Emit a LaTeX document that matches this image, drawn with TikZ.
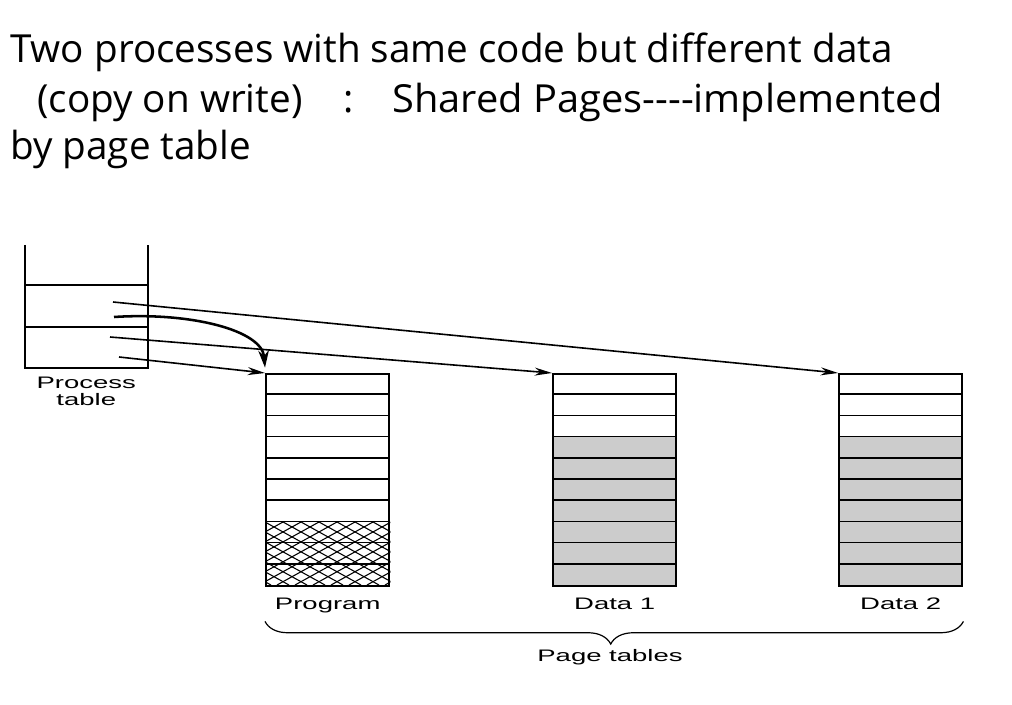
\documentclass[tikz,border=0pt]{standalone}
\usepackage{fontspec}
\setmainfont{Open Sans}
\newfontfamily\figfont{Liberation Sans}
\usetikzlibrary{positioning,arrows.meta,decorations.pathreplacing,backgrounds}

\tikzset{
  pgtab/.style={draw, line width=1.8pt, minimum width=92.25pt, minimum height=159pt, inner sep=0pt, anchor=north west},
  rowline/.style={line width=1.1pt},
  lbl/.style={inner sep=0pt, font=\figfont\fontsize{12.5}{12.75}\selectfont},
  ptr/.style={-{Stealth[length=13pt,width=6pt]}, line width=1.2pt},
  title/.style={inner sep=0pt, anchor=base west, font=\fontsize{29}{35}\selectfont},
}
\newcommand{\wide}[1]{\scalebox{1.65}[1]{#1}}

\begin{document}
\begin{tikzpicture}[x=0.75pt, y=-0.75pt]
\useasboundingbox (0,0) rectangle (1012,705);

% title
\node[title] (t1) at (10,63) {Two processes with same code but different data};
\node[title] (t2) at (37,113) {(copy on write)};
\node[title] (t2b) at (343,113) {:};
\node[title] (t2c) at (392,113) {\scalebox{1.03}[1]{Shared Pages-{}-{}-{}-implemented}};
\node[title] (t3) at (10,160) {by page table};

% process table
\node[minimum width=91.5pt, minimum height=91.5pt, inner sep=0pt, anchor=north west] (ptab) at (25,245) {};
\draw[line width=1.5pt] (ptab.north west) -- (ptab.south west) -- (ptab.south east) -- (ptab.north east);
\foreach \d in {30,61.5}
  \draw[rowline] ([yshift=-\d pt]ptab.north west) -- ([yshift=-\d pt]ptab.north east);
\node[lbl, align=center, below=7pt of ptab] (ptlbl) {\wide{Process}\\\wide{table}};

% page tables
\node[pgtab] (prog) at (265,373) {};
\node[pgtab] (data1) at (552,373) {};
\node[pgtab] (data2) at (838,373) {};
\begin{scope}[on background layer]
  \foreach \t in {data1,data2}
    \fill[black!20] ([yshift=-47.7pt]\t.north west) rectangle (\t.south east);
  \clip ([yshift=-111.3pt]prog.north west) rectangle (prog.south east);
  \foreach \i in {-7,...,13}
    \draw[line width=0.8pt] (265+\i*18,522) -- ++(114,63) (265+\i*18,522) -- ++(-114,63);
\end{scope}
\foreach \t in {prog,data1,data2}
  \foreach \r in {1,...,9}
    \draw[rowline] ([yshift=-\r*15.9pt]\t.north west) -- ([yshift=-\r*15.9pt]\t.north east);

\node[lbl, below=7.5pt of prog] (proglbl) {\wide{Program}};
\node[lbl, below=7.5pt of data1] (d1lbl) {\wide{Data 1}};
\node[lbl, below=7.5pt of data2] (d2lbl) {\wide{Data 2}};

% brace
\draw[line width=0.9pt, decorate, decoration={brace, mirror, amplitude=17pt, aspect=0.495}]
  ([yshift=-25.5pt]prog.south west) -- ([yshift=-25.5pt]data2.south east);
\node[lbl] (pglbl) at (610,657) {\wide{Page tables}};

% pointers
\coordinate (p1) at (113,302);
\coordinate (p2) at (114,317);
\coordinate (p3) at (110,337);
\coordinate (p4) at (119,357);
\draw[ptr] (p1) -- (data2.north west);
\draw[ptr] (p3) -- (data1.north west);
\draw[ptr] (p4) -- (prog.north west);
\draw[-{Stealth[length=13pt,width=8pt]}, line width=1.9pt]
  (p2) .. controls (190,312) and (262,330) .. ([yshift=4pt]prog.north west);
\end{tikzpicture}
\end{document}
